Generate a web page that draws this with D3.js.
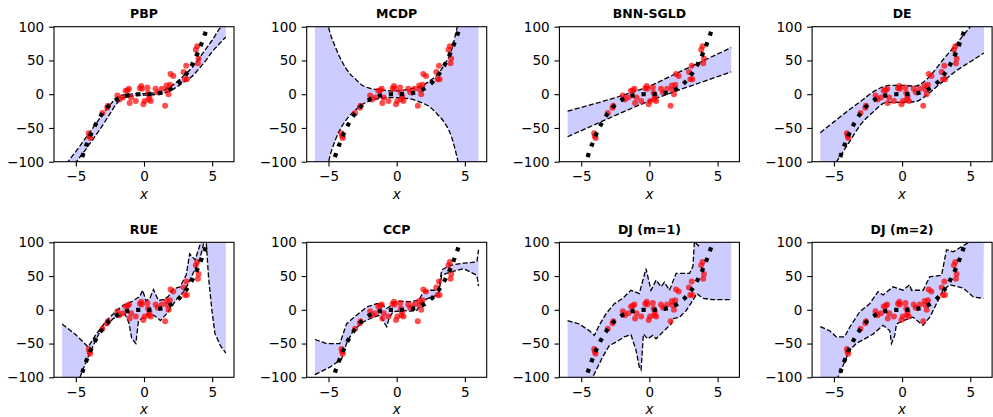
<!DOCTYPE html>
<html>
<head>
<meta charset="utf-8">
<script src="https://cdn.jsdelivr.net/npm/d3@7"></script>
<style>
  body { margin: 0; background: #fff; }
  text { font-family: "DejaVu Sans", sans-serif; }
</style>
</head>
<body>
<div class="grid"></div>
<script>
  var titles = ["PBP", "MCDP", "BNN-SGLD", "DE", "RUE", "CCP", "DJ (m=1)", "DJ (m=2)"];
  var xTicks = [-5, 0, 5],
      yTicks = [-100, -50, 0, 50, 100];

  // observed points (same in every panel)
  var obsX = [-4.05, -4.0, -3.95, -3.05, -2.7, -2.65, -1.95, -1.8, -1.55, -1.35, -1.2, -1.1, -1.05, -0.95,
              -0.6, -0.3, -0.2, -0.15, -0.05, 0.05, 0.25, 0.3, 0.35, 0.4, 0.5, 0.85, 1.0, 1.3, 1.55,
              1.65, 1.7, 1.8, 1.9, 1.95, 2.15, 2.9, 3.0, 3.1, 3.15, 3.8, 3.9, 3.95, 4.0];
  var obsY = [-58, -62, -65, -28, -20, -17, -2, -8, -5, 5, 6, 8, -13, -5,
              -10, 9, 12, 8, -15, -10, 10, 2, -8, -3, -10, 8, 3, 8, -17,
              13, 7, 0, 14, 30, 27, 33, 22, 42, 22, 66, 71, 46, 53];

  // ground truth y = x^3
  var trueX = [-5, -4.5, -4, -3.5, -3, -2.5, -2, -1.5, -1, -0.5, 0, 0.5, 1, 1.5, 2, 2.5, 3, 3.5, 4, 4.5, 5];
  var trueY = [-125, -91.1, -64, -42.9, -27, -15.6, -8, -3.4, -1, -0.1, 0, 0.1, 1, 3.4, 8, 15.6, 27, 42.9, 64, 91.1, 125];

  // band edges, [x, y]
  var pbpUpper = [[-6, -112], [-5.5, -98], [-5, -85], [-4.5, -71], [-4, -57], [-3.5, -43], [-3, -29], [-2.5, -16],
                  [-2, -5], [-1.5, -1], [-1, 0], [-0.5, 1], [0, 1], [0.5, 1.5], [1, 2.5], [1.5, 6], [2, 12],
                  [2.5, 20], [3, 29], [3.5, 39], [4, 52], [4.5, 66], [5, 80], [5.5, 96], [6, 110]];
  var pbpLower = [[-6, -130], [-5.5, -115], [-5, -101], [-4.5, -88], [-4, -74], [-3.5, -60], [-3, -45], [-2.5, -29],
                  [-2, -14], [-1.5, -5], [-1, -3], [-0.5, -2], [0, -1.5], [0.5, -1], [1, 0], [1.5, 2], [2, 6],
                  [2.5, 12], [3, 19], [3.5, 26], [4, 37], [4.5, 49], [5, 63], [5.5, 74], [6, 85]];

  var mcdpUpper = [[-6, 260], [-5.5, 165], [-5, 100], [-4.5, 70], [-4, 48], [-3.5, 32], [-3, 22], [-2.5, 13],
                   [-2, 9], [-1.5, 7], [-1, 6], [-0.5, 5], [0, 5], [0.5, 6], [1, 8], [1.5, 10], [2, 14],
                   [2.5, 21], [3, 29], [3.5, 44], [4, 64], [4.5, 105], [5, 150], [5.5, 210], [6, 280]];
  var mcdpLower = [[-6, -260], [-5.5, -165], [-5, -101], [-4.5, -68], [-4, -47], [-3.5, -33], [-3, -23], [-2.5, -15],
                   [-2, -10], [-1.5, -7], [-1, -6], [-0.5, -5], [0, -5], [0.5, -6], [1, -7], [1.5, -10], [2, -14],
                   [2.5, -20], [3, -30], [3.5, -42], [4, -62], [4.5, -100], [5, -150], [5.5, -210], [6, -280]];

  var sgldUpper = [[-6, -25], [-4, -14], [-2, -2], [0, 12], [2, 31], [4, 50], [6, 69]];
  var sgldLower = [[-6, -63], [-4, -45], [-2, -27], [0, -10], [2, 5], [4, 19], [6, 33]];

  var deUpper = [[-6, -57], [-5, -41], [-4, -25], [-3, -10], [-2, 5], [-1.5, 10], [-1, 13], [0, 13], [1, 12],
                 [1.5, 17], [2, 26], [3, 51], [4, 75], [5, 100], [6, 124]];
  var deLower = [[-6, -137], [-5, -106], [-4, -75], [-3, -44], [-2, -24], [-1.5, -15], [-1, -12], [0, -12], [1, -11],
                 [1.5, -6], [2, 2], [3, 19], [4, 35], [5, 48], [6, 61]];

  var rueUpper = [[-6, -21], [-5, -37], [-4.1, -55], [-3.5, -36], [-2.75, -16], [-2, -1], [-1.5, 7], [-0.9, 12],
                  [-0.3, 20], [-0.1, 29], [0.15, 13], [0.45, 18], [0.7, 30], [1.05, 14], [1.45, 15], [1.8, 20],
                  [2.15, 31], [2.65, 34], [3.1, 52], [3.35, 83], [3.75, 74], [4.25, 105], [5, 160], [6, 200]];
  var rueLower = [[-6, -160], [-5, -120], [-4.7, -100], [-4, -65], [-3.25, -33], [-2.25, -13], [-1.4, -6], [-1.1, -20],
                  [-0.9, -43], [-0.6, -50], [-0.4, -16], [0, -11], [0.4, -5], [0.7, -8], [1.0, -12], [1.2, -16],
                  [1.65, -6], [2, 4], [2.4, 16], [3, 29], [3.6, 54], [4.1, 76], [4.4, 100], [4.55, 105],
                  [4.73, 49], [4.98, -1], [5.2, -35], [5.6, -53], [6, -64]];

  var ccpUpper = [[-6, -44], [-5.15, -50], [-4.17, -50], [-3.68, -21], [-3.19, -12], [-2.2, 4], [-1.47, 9], [-1.1, 9],
                  [-0.75, 2], [-0.37, 7], [0, 13], [1, 12], [1.6, 14], [1.96, 26], [2.45, 29], [3.06, 29],
                  [3.3, 59], [3.92, 66], [4.9, 69], [5.88, 71], [6, 89]];
  var ccpLower = [[-6, -96], [-4.9, -85], [-4.04, -73], [-3.68, -50], [-3.19, -31], [-2.45, -18], [-1.72, -11],
                  [-1.23, -8], [-0.86, -21], [-0.73, -25], [-0.54, -11], [-0.25, -3], [0.49, -1], [0.98, -2],
                  [1.47, -1], [1.96, 14], [2.57, 19], [3.06, 22], [3.3, 51], [3.92, 56], [4.9, 61], [5.88, 51], [6, 35]];

  var dj1Upper = [[-6, -16], [-5.15, -21], [-4.4, -31], [-4.04, -38], [-3.68, -23], [-3.19, -6], [-2.57, 9],
                  [-1.96, 17], [-1.35, 29], [-0.74, 24], [-0.25, 61], [0.12, 29], [0.49, 44], [0.86, 34],
                  [1.1, 41], [1.47, 29], [1.96, 54], [2.94, 54], [3.19, 64], [3.3, 101], [3.6, 95], [3.8, 110], [6, 140]];
  var dj1Lower = [[-6, -150], [-4.17, -100], [-4.04, -95], [-3.43, -70], [-2.94, -53], [-2.45, -48], [-1.84, -40],
                  [-1.35, -37], [-0.98, -60], [-0.74, -85], [-0.61, -89], [-0.44, -36], [-0.12, -43], [0.25, -38],
                  [0.49, -43], [0.74, -38], [1.23, -28], [1.6, -21], [1.72, -13], [2.2, -11], [2.7, -1],
                  [3.19, 14], [3.48, 24], [3.92, 17], [4.66, 15], [6, 15]];

  var dj2Upper = [[-6, -25], [-5.32, -31], [-4.83, -40], [-4.22, -40], [-3.85, -26], [-3.11, -3], [-2.38, 9],
                  [-1.76, 27], [-1.4, 22], [-0.66, 34], [0.07, 29], [0.56, 37], [0.69, 29], [1.54, 29], [2.03, 49],
                  [2.89, 51], [3.26, 89], [3.75, 86], [4.98, 101], [6, 120]];
  var dj2Lower = [[-6, -140], [-4.7, -100], [-3.85, -60], [-3.36, -50], [-2.74, -43], [-2.13, -36], [-1.4, -23],
                  [-0.9, -31], [-0.78, -50], [-0.54, -38], [-0.41, -21], [0.07, -16], [0.8, -11], [1.54, -23],
                  [2.03, -11], [2.52, 9], [3.0, 29], [3.5, 37], [4.49, 32], [5.22, 19], [5.96, 17]];

  var uppers = [pbpUpper, mcdpUpper, sgldUpper, deUpper, rueUpper, ccpUpper, dj1Upper, dj2Upper];
  var lowers = [pbpLower, mcdpLower, sgldLower, deLower, rueLower, ccpLower, dj1Lower, dj2Lower];
  // smooth edges for the first four methods
  var smooth = [true, true, true, true, false, false, false, false];

  var width = 993, height = 417,
      plotW = 180, plotH = 135,
      lefts = [54, 306.7, 559.4, 812.1],
      tops = [26.7, 242.3];

  var svg = d3.select('.grid')
      .append("svg")
      .attr("width", width)
      .attr("height", height);

  var xScale = d3.scaleLinear().domain([-6.6, 6.6]).range([0, plotW]);
  var yScale = d3.scaleLinear().domain([-100, 100]).range([plotH, 0]);

  var obs = obsX.map(function(x, i) { return [x, obsY[i]]; });
  var truth = trueX.map(function(x, i) { return [x, trueY[i]]; });

  titles.forEach(function(title, i) {
    var col = i % 4, row = Math.floor(i / 4);
    var g = svg.append("g")
        .attr("transform", "translate(" + lefts[col] + "," + tops[row] + ")");

    g.append("clipPath").attr("id", "clip" + i)
      .append("rect").attr("width", plotW).attr("height", plotH);

    var line = d3.line()
        .x(function(d) { return xScale(d[0]); })
        .y(function(d) { return yScale(d[1]); })
        .curve(smooth[i] ? d3.curveMonotoneX : d3.curveLinear);

    var plot = g.append("g").attr("clip-path", "url(#clip" + i + ")");

    // band fill: upper forward, lower backward
    var up = uppers[i], lo = lowers[i];
    var poly = line(up) + "L" + line(lo.slice().reverse()).slice(1) + "Z";
    plot.append("path")
        .attr("d", poly)
        .attr("fill", "#ccccff")
        .attr("stroke", "none");

    [up, lo].forEach(function(edge) {
      plot.append("path")
          .attr("d", line(edge))
          .attr("fill", "none")
          .attr("stroke", "#000")
          .attr("stroke-width", 1.3)
          .attr("stroke-dasharray", "5.1,2.2");
    });

    plot.selectAll("circle")
        .data(obs)
        .enter().append("circle")
        .attr("cx", function(d) { return xScale(d[0]); })
        .attr("cy", function(d) { return yScale(d[1]); })
        .attr("r", 3)
        .attr("fill", "red")
        .attr("fill-opacity", 0.7);

    plot.append("path")
        .attr("d", d3.line()
            .x(function(d) { return xScale(d[0]); })
            .y(function(d) { return yScale(d[1]); })
            .curve(d3.curveCatmullRom)(truth))
        .attr("fill", "none")
        .attr("stroke", "#000")
        .attr("stroke-width", 4.2)
        .attr("stroke-dasharray", "4.2,6.9");

    // axes
    var xAxis = d3.axisBottom(xScale).tickValues(xTicks).tickSize(4.9).tickPadding(4.9);
    var yAxis = d3.axisLeft(yScale).tickValues(yTicks).tickSize(4.9).tickPadding(4.9);

    g.append("g")
        .attr("transform", "translate(0," + plotH + ")")
        .call(xAxis)
        .call(function(a) { a.select(".domain").remove(); })
        .selectAll("text")
        .attr("font-size", "13.5px")
        .attr("fill", "#000");

    g.append("g")
        .call(yAxis)
        .call(function(a) { a.select(".domain").remove(); })
        .selectAll("text")
        .attr("font-size", "13.5px")
        .attr("fill", "#000");

    g.selectAll(".tick line").attr("stroke", "#000").attr("stroke-width", 1.1);

    g.append("rect")
        .attr("width", plotW)
        .attr("height", plotH)
        .attr("fill", "none")
        .attr("stroke", "#000")
        .attr("stroke-width", 1.1);

    g.append("text")
        .attr("x", plotW / 2)
        .attr("y", -8.5)
        .attr("text-anchor", "middle")
        .attr("font-size", "12.5px")
        .attr("font-weight", "bold")
        .text(title);

    g.append("text")
        .attr("x", plotW / 2)
        .attr("y", plotH + 37)
        .attr("text-anchor", "middle")
        .attr("font-size", "13.5px")
        .attr("font-style", "italic")
        .text("x");
  });
</script>
</body>
</html>
